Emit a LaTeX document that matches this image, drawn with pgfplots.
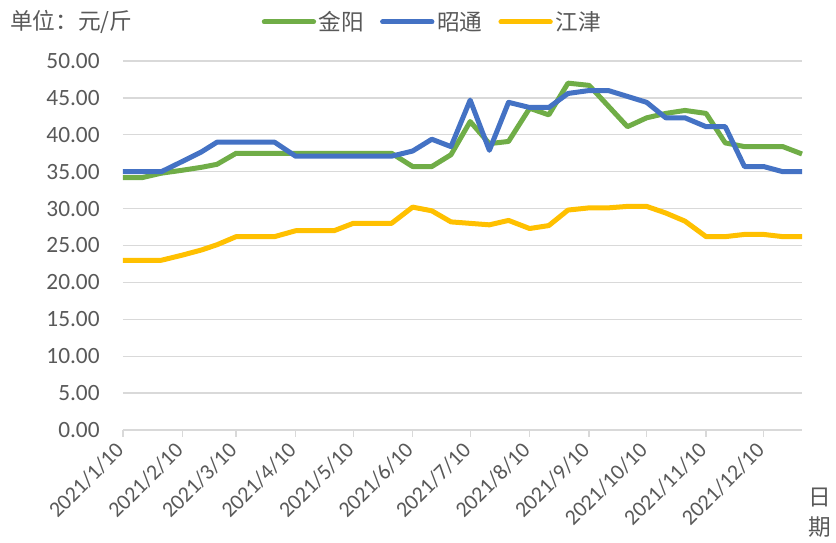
\documentclass[border=0pt]{standalone}
\usepackage{pgfplots}
\pgfplotsset{compat=1.18}
\usepackage{pgfplotstable}
\usepackage{fontspec}
\setmainfont{Carlito}
\newfontfamily\cjk{Noto Sans CJK SC}
\definecolor{cgreen}{HTML}{70AD47}
\definecolor{cblue}{HTML}{4472C4}
\definecolor{cyellow}{HTML}{FFC000}
\definecolor{ctext}{HTML}{595959}
\definecolor{cgrid}{HTML}{D9D9D9}
% day = days after 2021/1/10
\pgfplotstableread{
day jinyang zhaotong jiangjin
0   34.2 35.0 23.0
10  34.2 35.0 23.0
20  34.8 35.0 23.0
31  35.2 36.4 23.7
41  35.6 37.7 24.4
49  36.0 39.0 25.1
59  37.5 39.0 26.2
69  37.5 39.0 26.2
79  37.5 39.0 26.2
90  37.5 37.1 27.0
100 37.5 37.1 27.0
110 37.5 37.1 27.0
120 37.5 37.1 28.0
130 37.5 37.1 28.0
140 37.5 37.1 28.0
151 35.7 37.8 30.2
161 35.7 39.4 29.7
171 37.3 38.4 28.2
181 41.8 44.7 28.0
191 38.8 37.9 27.8
201 39.1 44.4 28.4
212 43.6 43.7 27.3
222 42.7 43.7 27.7
232 47.0 45.6 29.8
243 46.7 46.0 30.1
253 43.9 46.0 30.1
263 41.1 45.2 30.3
273 42.3 44.4 30.3
283 42.9 42.3 29.4
293 43.3 42.3 28.3
304 42.9 41.1 26.2
314 38.9 41.1 26.2
324 38.4 35.7 26.5
334 38.4 35.7 26.5
344 38.4 35.0 26.2
354 37.4 35.0 26.2
}\datatable
\begin{document}
\begin{tikzpicture}
\useasboundingbox (-92.25pt,-84.75pt) rectangle (534.75pt,322.5pt);
\begin{axis}[
  at={(0pt,0pt)}, anchor=south west,
  scale only axis, width=509.25pt, height=276.75pt,
  xmin=0, xmax=354, ymin=0, ymax=50,
  axis lines*=left,
  x axis line style={draw=cgrid, line width=1pt},
  y axis line style={draw=none},
  ytick={0,5,...,50},
  ytick style={draw=none},
  xtick={0,31,59,90,120,151,181,212,243,273,304,334},
  xticklabels={2021/1/10,2021/2/10,2021/3/10,2021/4/10,2021/5/10,2021/6/10,2021/7/10,2021/8/10,2021/9/10,2021/10/10,2021/11/10,2021/12/10},
  xtick align=outside,
  major tick length=5pt,
  xtick style={draw=cgrid, line width=1pt},
  ymajorgrids,
  grid style={draw=cgrid, line width=1pt},
  /pgf/number format/assume math mode=true,
  yticklabel style={/pgf/number format/fixed, /pgf/number format/fixed zerofill, /pgf/number format/precision=2, font=\fontsize{17.5}{20}\selectfont, text=ctext, xshift=-14pt},
  xticklabel style={rotate=45, anchor=east, font=\fontsize{16.5}{18}\selectfont, text=ctext},
  xticklabel shift=5pt,
  clip=false,
  legend columns=3,
  legend style={draw=none, fill=none, at={(rel axis cs:0.456,1.1057)}, anchor=center, font=\cjk\fontsize{17}{20}\selectfont, text=ctext,
    /tikz/every even column/.append style={column sep=10pt}},
  legend image code/.code={\draw[#1, line cap=round] (0pt,0pt) -- (37pt,0pt);},
  every axis plot/.append style={line width=3.75pt, line join=round},
]
\addplot[cgreen] table[x=day, y=jinyang] {\datatable};
\addlegendentry{金阳}
\addplot[cblue] table[x=day, y=zhaotong] {\datatable};
\addlegendentry{昭通}
\addplot[cyellow] table[x=day, y=jiangjin] {\datatable};
\addlegendentry{江津}
\node[anchor=west, text=ctext, font=\cjk\fontsize{17}{20}\selectfont, inner sep=0pt] at (rel axis cs:-0.1664,1.1057) {单位：元/斤};
\node[anchor=center, text=ctext, font=\cjk\fontsize{17}{22}\selectfont, align=center, inner sep=0pt] at (rel axis cs:1.0265,-0.224) {日\\期};
\end{axis}
\end{tikzpicture}
\end{document}
